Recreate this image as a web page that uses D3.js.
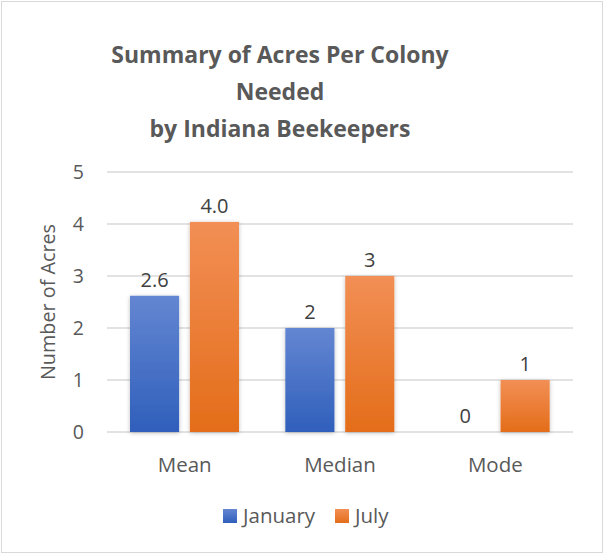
<!DOCTYPE html>
<html>
<head>
<meta charset="utf-8">
<script src="https://cdnjs.cloudflare.com/ajax/libs/d3/7.8.5/d3.min.js"></script>
<style>
  body { margin: 0; background: #fff; }
  text { font-family: "Open Sans", "Noto Sans", sans-serif; }
</style>
</head>
<body>
<svg width="604" height="554"></svg>
<script>
var svg = d3.select('svg');

// data
var categories = ['Mean', 'Median', 'Mode'];
var seriesNames = ['January', 'July'];
var january = [2.62, 2, 0];
var july = [4.04, 3, 1];
var labelDigits = [1, 0, 0];   // decimals shown per category
var yTicks = [0, 1, 2, 3, 4, 5];
var titleLines = ['Summary of Acres Per Colony', 'Needed', 'by Indiana Beekeepers'];

var colors = {
    January: ['#6486d2', '#2f5fbb'],
    July: ['#f28f55', '#e46d1a']
};

// chart border
svg.append('rect')
    .attr('x', 1.5).attr('y', 1.5)
    .attr('width', 601).attr('height', 551)
    .attr('fill', '#fff')
    .attr('stroke', '#d9d9d9');

var defs = svg.append('defs');
seriesNames.forEach(function(name){
    var g = defs.append('linearGradient')
        .attr('id', 'grad-' + name)
        .attr('x1', 0).attr('y1', 0).attr('x2', 0).attr('y2', 1);
    g.append('stop').attr('offset', '0%').attr('stop-color', colors[name][0]);
    g.append('stop').attr('offset', '100%').attr('stop-color', colors[name][1]);
});
var shadow = defs.append('filter').attr('id', 'shadow')
    .attr('x', '-20%').attr('y', '-10%').attr('width', '140%').attr('height', '120%');
shadow.append('feDropShadow')
    .attr('dx', 0).attr('dy', 1).attr('stdDeviation', 2)
    .attr('flood-color', '#000').attr('flood-opacity', 0.25);

var x = d3.scaleBand().domain(categories).range([107, 573]).paddingInner(0).paddingOuter(0);
var inner = d3.scaleBand().domain(seriesNames).range([23, 132]).paddingInner(0.18);
var y = d3.scaleLinear().domain([0, 5]).range([432, 172]);

// gridlines
svg.append('g')
    .selectAll('line')
    .data(yTicks)
    .enter()
    .append('line')
    .attr('x1', 107).attr('x2', 573)
    .attr('y1', function(d){ return y(d); })
    .attr('y2', function(d){ return y(d); })
    .attr('stroke', '#d9d9d9')
    .attr('stroke-width', 1.3);

// y tick labels
svg.append('g')
    .selectAll('text')
    .data(yTicks)
    .enter()
    .append('text')
    .attr('x', 84)
    .attr('y', function(d){ return y(d) + 7; })
    .attr('text-anchor', 'end')
    .attr('font-size', 19.5)
    .attr('fill', '#595959')
    .text(function(d){ return d; });

// y axis title
svg.append('text')
    .attr('transform', 'translate(55,302) rotate(-90)')
    .attr('text-anchor', 'middle')
    .attr('font-size', 19.8)
    .attr('fill', '#595959')
    .text('Number of Acres');

// bars
var rows = [];
categories.forEach(function(c, i){
    rows.push({cat: c, series: 'January', value: january[i], digits: labelDigits[i]});
    rows.push({cat: c, series: 'July', value: july[i], digits: labelDigits[i]});
});

svg.append('g')
    .selectAll('rect')
    .data(rows.filter(function(d){ return d.value > 0; }))
    .enter()
    .append('rect')
    .attr('x', function(d){ return x(d.cat) + inner(d.series); })
    .attr('y', function(d){ return y(d.value); })
    .attr('width', inner.bandwidth())
    .attr('height', function(d){ return y(0) - y(d.value); })
    .attr('fill', function(d){ return 'url(#grad-' + d.series + ')'; })
    .attr('filter', 'url(#shadow)');

// value labels
svg.append('g')
    .selectAll('text')
    .data(rows)
    .enter()
    .append('text')
    .attr('x', function(d){ return x(d.cat) + inner(d.series) + inner.bandwidth() / 2; })
    .attr('y', function(d){ return y(d.value) - 9; })
    .attr('text-anchor', 'middle')
    .attr('font-size', 20)
    .attr('fill', '#404040')
    .text(function(d){ return d.value.toFixed(d.digits); });

// category labels
svg.append('g')
    .selectAll('text')
    .data(categories)
    .enter()
    .append('text')
    .attr('x', function(d){ return x(d) + x.bandwidth() / 2; })
    .attr('y', 472)
    .attr('text-anchor', 'middle')
    .attr('font-size', 20.5)
    .attr('fill', '#595959')
    .text(function(d){ return d; });

// title
svg.append('g')
    .selectAll('text')
    .data(titleLines)
    .enter()
    .append('text')
    .attr('x', 280)
    .attr('y', function(d, i){ return 63 + i * 37; })
    .attr('text-anchor', 'middle')
    .attr('font-size', 23)
    .attr('font-weight', 'bold')
    .attr('fill', '#595959')
    .text(function(d){ return d; });

// legend
var legendX = [223, 335];
var legend = svg.append('g')
    .selectAll('g')
    .data(seriesNames)
    .enter()
    .append('g')
    .attr('transform', function(d, i){ return 'translate(' + legendX[i] + ',509)'; });
legend.append('rect')
    .attr('width', 14).attr('height', 14)
    .attr('fill', function(d){ return 'url(#grad-' + d + ')'; });
legend.append('text')
    .attr('x', 20).attr('y', 14)
    .attr('font-size', 20.5)
    .attr('fill', '#595959')
    .text(function(d){ return d; });
</script>
</body>
</html>
